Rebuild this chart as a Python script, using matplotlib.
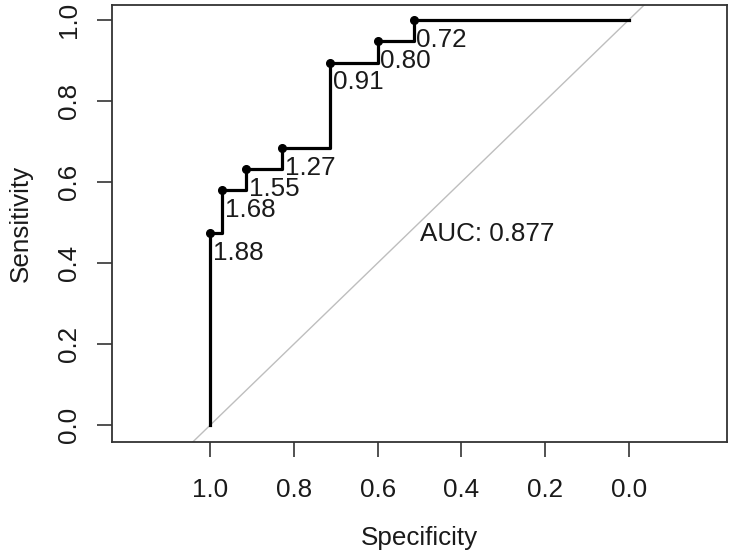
import matplotlib
matplotlib.use("Agg")
import matplotlib.pyplot as plt

plt.rcParams['font.family'] = ['Liberation Sans', 'DejaVu Sans']

# threshold points printed on the ROC curve
thresholds = ['1.88', '1.68', '1.55', '1.27', '0.91', '0.80', '0.72']
spec_pts = [1.000, 0.971, 0.914, 0.829, 0.714, 0.600, 0.514]
sens_pts = [0.474, 0.579, 0.632, 0.684, 0.895, 0.947, 1.000]

# full step path (start at (1,0), end at (0,1))
curve_spec = [1.0] + spec_pts + [0.0]
curve_sens = [0.0] + sens_pts + [1.0]

auc_text = 'AUC: 0.877'

fs = 18.7
txt_col = '#1a1a1a'

fig = plt.figure(figsize=(7.33, 5.55), dpi=100)
ax = fig.add_axes([112/733, 1 - 442/555, (727 - 112)/733, (442 - 5)/555])

# chance diagonal (abline through (1,0) and (0,1))
ax.plot([1.3, -0.3], [-0.3, 1.3], color='#bebebe', lw=1.0, zorder=1)

ax.step(curve_spec, curve_sens, where='post', color='black', lw=2.3, zorder=2)
ax.plot(spec_pts, sens_pts, 'o', color='black', ms=5.5, zorder=3)

for t, x, y in zip(thresholds, spec_pts, sens_pts):
    ax.annotate(t, (x, y), xytext=(2, -5.5), textcoords='offset points',
                ha='left', va='top', fontsize=fs, color=txt_col)

ax.text(0.5, 0.5, auc_text, ha='left', va='top', fontsize=fs, color=txt_col)

ax.set_xlim(1.235, -0.235)
ax.set_ylim(-0.042, 1.037)

ax.set_xticks([1.0, 0.8, 0.6, 0.4, 0.2, 0.0])
ax.set_xticklabels(['1.0', '0.8', '0.6', '0.4', '0.2', '0.0'])
ax.set_yticks([0.0, 0.2, 0.4, 0.6, 0.8, 1.0])
ax.set_yticklabels(['0.0', '0.2', '0.4', '0.6', '0.8', '1.0'], rotation=90, va='center')

ax.tick_params(axis='both', length=11, width=1.2, labelsize=fs, labelcolor=txt_col, color='#333333')
ax.tick_params(axis='x', pad=15)
ax.tick_params(axis='y', pad=11)

for s in ax.spines.values():
    s.set_linewidth(1.3)
    s.set_color('#333333')

ax.set_xlabel('Specificity', fontsize=fs, color=txt_col, labelpad=17)
ax.set_ylabel('Sensitivity', fontsize=fs, color=txt_col, labelpad=18)

fig.savefig('out.png', dpi=100)
